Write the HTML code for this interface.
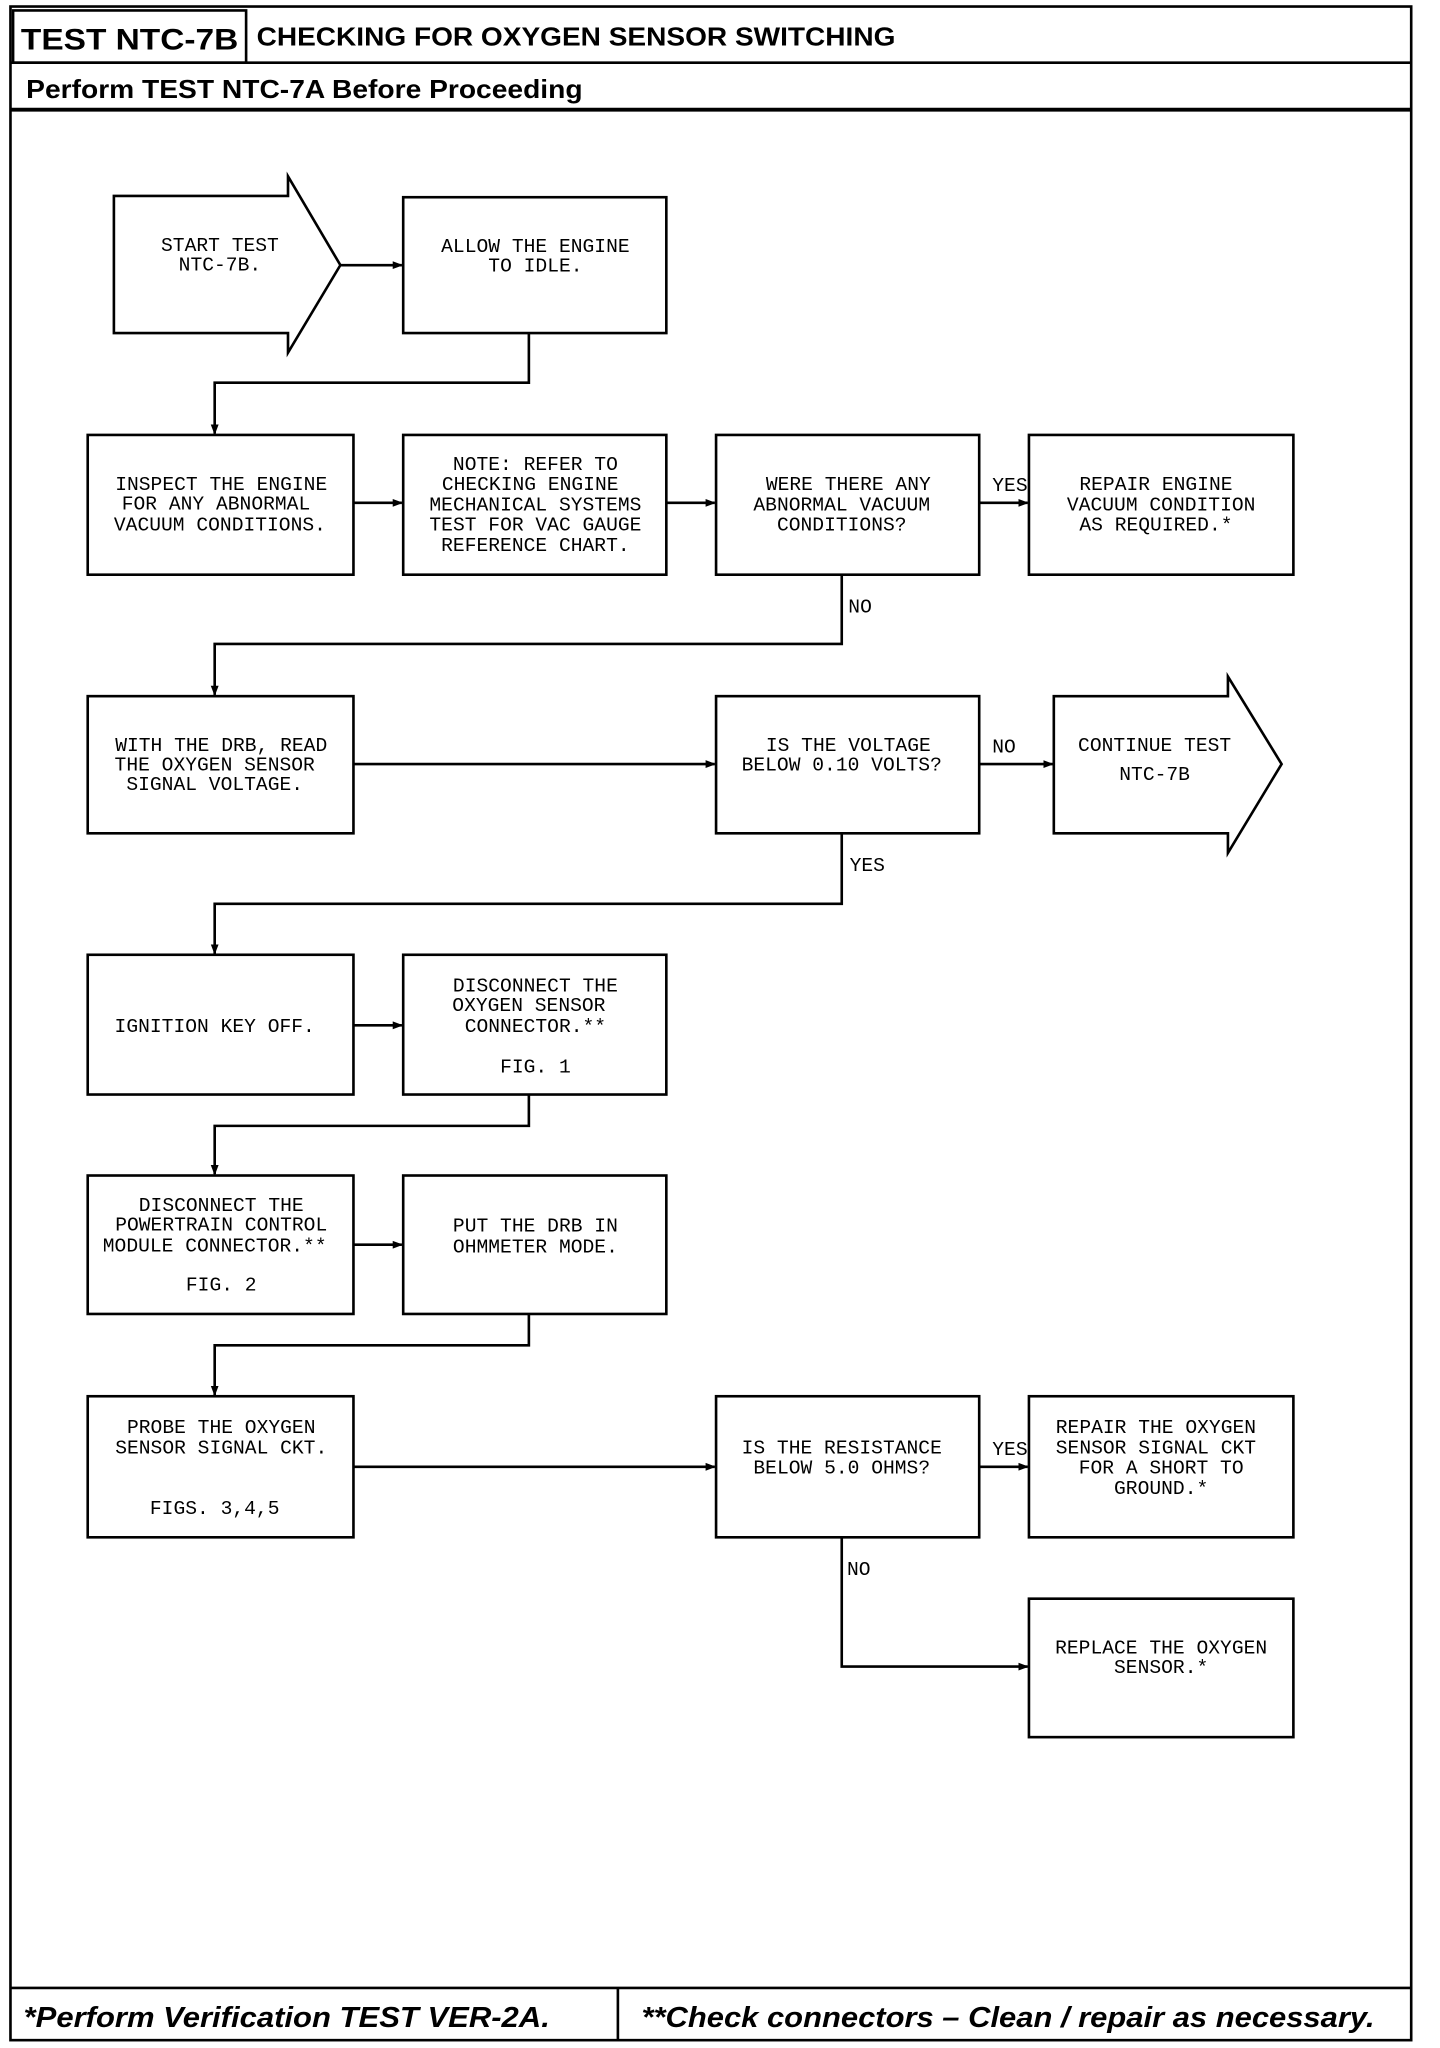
<!DOCTYPE html>
<html><head><meta charset="utf-8"><style>
html,body{margin:0;padding:0;background:#fff}
svg{display:block}
.t{font-family:"Liberation Mono",monospace;font-size:15px;fill:#000}
.h{font-family:"Liberation Sans",sans-serif;font-weight:bold;fill:#000}
</style></head><body>
<svg width="1440" height="2048" viewBox="0 0 1100 1568" preserveAspectRatio="none" xmlns="http://www.w3.org/2000/svg">
<defs><marker id="a" markerWidth="8" markerHeight="8" refX="7" refY="4" orient="auto" markerUnits="userSpaceOnUse"><path d="M0,1 L8,4 L0,7 Z" fill="#000"/></marker></defs>
<g fill="none" stroke="#000" stroke-width="2">
<rect x="8" y="5" width="1070" height="1557"/>
<rect x="10" y="8" width="178" height="40"/>
<line x1="8" y1="48" x2="1078" y2="48"/>
<line x1="8" y1="84" x2="1078" y2="84" stroke-width="3"/>
<line x1="8" y1="1522" x2="1078" y2="1522"/>
<line x1="472" y1="1522" x2="472" y2="1562"/>
<!-- start arrow -->
<path d="M87,150 L220,150 L220,135 L260,203 L220,270 L220,255 L87,255 Z"/>
<rect x="308" y="151" width="201" height="104"/>
<rect x="67" y="333" width="203" height="107"/>
<rect x="308" y="333" width="201" height="107"/>
<rect x="547" y="333" width="201" height="107"/>
<rect x="786" y="333" width="202" height="107"/>
<rect x="67" y="533" width="203" height="105"/>
<rect x="547" y="533" width="201" height="105"/>
<path d="M805,533 L938,533 L938,518 L979,585 L938,653 L938,638 L805,638 Z"/>
<rect x="67" y="731" width="203" height="107"/>
<rect x="308" y="731" width="201" height="107"/>
<rect x="67" y="900" width="203" height="106"/>
<rect x="308" y="900" width="201" height="106"/>
<rect x="67" y="1069" width="203" height="108"/>
<rect x="547" y="1069" width="201" height="108"/>
<rect x="786" y="1069" width="202" height="108"/>
<rect x="786" y="1224" width="202" height="106"/>
<!-- connectors -->
<line x1="260" y1="203" x2="307" y2="203" marker-end="url(#a)"/>
<polyline points="404,255 404,293 164,293 164,332" marker-end="url(#a)"/>
<line x1="270" y1="385" x2="307" y2="385" marker-end="url(#a)"/>
<line x1="509" y1="385" x2="546" y2="385" marker-end="url(#a)"/>
<line x1="748" y1="385" x2="785" y2="385" marker-end="url(#a)"/>
<polyline points="643,440 643,493 164,493 164,532" marker-end="url(#a)"/>
<line x1="270" y1="585" x2="546" y2="585" marker-end="url(#a)"/>
<line x1="748" y1="585" x2="804" y2="585" marker-end="url(#a)"/>
<polyline points="643,638 643,692 164,692 164,730" marker-end="url(#a)"/>
<line x1="270" y1="785" x2="307" y2="785" marker-end="url(#a)"/>
<polyline points="404,838 404,862 164,862 164,899" marker-end="url(#a)"/>
<line x1="270" y1="953" x2="307" y2="953" marker-end="url(#a)"/>
<polyline points="404,1006 404,1030 164,1030 164,1068" marker-end="url(#a)"/>
<line x1="270" y1="1123" x2="546" y2="1123" marker-end="url(#a)"/>
<line x1="748" y1="1123" x2="785" y2="1123" marker-end="url(#a)"/>
<polyline points="643,1177 643,1276 785,1276" marker-end="url(#a)"/>
</g>
<text class="h" x="16" y="38" font-size="23" textLength="166" lengthAdjust="spacingAndGlyphs">TEST NTC-7B</text>
<text class="h" x="196" y="35" font-size="20" textLength="488" lengthAdjust="spacingAndGlyphs">CHECKING FOR OXYGEN SENSOR SWITCHING</text>
<text class="h" x="20" y="75" font-size="20" textLength="425" lengthAdjust="spacingAndGlyphs">Perform TEST NTC-7A Before Proceeding</text>
<text class="h" x="18" y="1552" font-size="22" font-style="italic" textLength="402" lengthAdjust="spacingAndGlyphs">*Perform Verification TEST VER-2A.</text>
<text class="h" x="490" y="1552" font-size="22" font-style="italic" textLength="560" lengthAdjust="spacingAndGlyphs">**Check connectors – Clean / repair as necessary.</text>
<g class="t" text-anchor="middle">
<text x="168" y="192">START TEST</text><text x="168" y="207">NTC-7B.</text>
<text x="409" y="193">ALLOW THE ENGINE</text><text x="409" y="208">TO IDLE.</text>
<text x="169" y="375">INSPECT THE ENGINE</text><text x="165" y="390">FOR ANY ABNORMAL</text><text x="168" y="406">VACUUM CONDITIONS.</text>
<text x="409" y="360">NOTE: REFER TO</text><text x="405" y="375">CHECKING ENGINE</text><text x="409" y="391">MECHANICAL SYSTEMS</text><text x="409" y="406">TEST FOR VAC GAUGE</text><text x="409" y="422">REFERENCE CHART.</text>
<text x="648" y="375">WERE THERE ANY</text><text x="643" y="391">ABNORMAL VACUUM</text><text x="643" y="406">CONDITIONS?</text>
<text x="883" y="375">REPAIR ENGINE</text><text x="887" y="391">VACUUM CONDITION</text><text x="883" y="406">AS REQUIRED.*</text>
<text x="169" y="575">WITH THE DRB, READ</text><text x="164" y="590">THE OXYGEN SENSOR</text><text x="164" y="605">SIGNAL VOLTAGE.</text>
<text x="648" y="575">IS THE VOLTAGE</text><text x="643" y="590">BELOW 0.10 VOLTS?</text>
<text x="882" y="575">CONTINUE TEST</text><text x="882" y="597">NTC-7B</text>
<text x="164" y="790">IGNITION KEY OFF.</text>
<text x="409" y="759">DISCONNECT THE</text><text x="404" y="774">OXYGEN SENSOR</text><text x="409" y="790">CONNECTOR.**</text><text x="409" y="821">FIG. 1</text>
<text x="169" y="927">DISCONNECT THE</text><text x="169" y="942">POWERTRAIN CONTROL</text><text x="164" y="958">MODULE CONNECTOR.**</text><text x="169" y="988">FIG. 2</text>
<text x="409" y="943">PUT THE DRB IN</text><text x="409" y="959">OHMMETER MODE.</text>
<text x="169" y="1097">PROBE THE OXYGEN</text><text x="169" y="1113">SENSOR SIGNAL CKT.</text><text x="164" y="1159">FIGS. 3,4,5</text>
<text x="643" y="1113">IS THE RESISTANCE</text><text x="643" y="1128">BELOW 5.0 OHMS?</text>
<text x="883" y="1097">REPAIR THE OXYGEN</text><text x="883" y="1113">SENSOR SIGNAL CKT</text><text x="887" y="1128">FOR A SHORT TO</text><text x="887" y="1144">GROUND.*</text>
<text x="887" y="1266">REPLACE THE OXYGEN</text><text x="887" y="1281">SENSOR.*</text>
</g>
<g class="t">
<text x="758" y="376">YES</text><text x="648" y="469">NO</text>
<text x="758" y="576">NO</text><text x="649" y="667">YES</text>
<text x="758" y="1114">YES</text><text x="647" y="1206">NO</text>
</g>
</svg>
</body></html>
